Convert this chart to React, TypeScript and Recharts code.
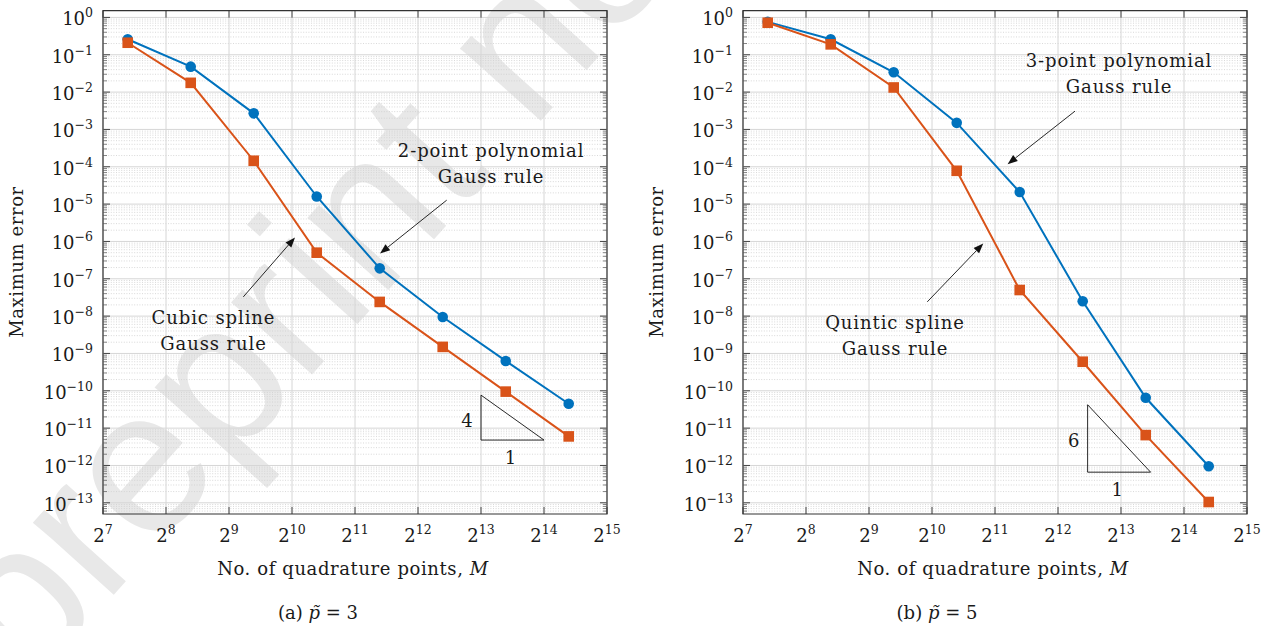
import React from "react";
import {
  LineChart,
  Line,
  XAxis,
  YAxis,
  CartesianGrid,
  ReferenceLine,
  ReferenceDot,
  ReferenceArea,
} from "recharts";

// number of quadrature points M (x positions shared by both panels)
const quadPoints = [168, 336, 672, 1344, 2688, 5376, 10752, 21504];

// (a) p~ = 3
const polyErrA = [0.26, 0.048, 0.0027, 1.6e-5, 1.9e-7, 9.5e-9, 6.3e-10, 4.5e-11];
const splineErrA = [0.21, 0.0177, 1.45e-4, 5.0e-7, 2.4e-8, 1.5e-9, 9.5e-11, 6.0e-12];

// (b) p~ = 5
const polyErrB = [0.76, 0.26, 0.034, 1.5e-3, 2.1e-5, 2.5e-8, 6.5e-11, 9.5e-13];
const splineErrB = [0.72, 0.19, 0.0133, 7.8e-5, 5.0e-8, 6.0e-10, 6.5e-12, 1.05e-13];

const xTicks = [128, 256, 512, 1024, 2048, 4096, 8192, 16384, 32768];
const yTicks = [
  1, 1e-1, 1e-2, 1e-3, 1e-4, 1e-5, 1e-6, 1e-7, 1e-8, 1e-9, 1e-10, 1e-11, 1e-12, 1e-13,
];

const X_MIN = 128;
const X_MAX = 32768;
const Y_MIN = 10 ** -13.3;
const Y_MAX = 10 ** 0.18;

// minor grid values 2..9 x 10^k inside the y range
const minorY: number[] = [];
for (let d = -14; d <= 0; d++) {
  for (let k = 2; k <= 9; k++) {
    const v = k * 10 ** d;
    if (v > Y_MIN && v < Y_MAX) minorY.push(v);
  }
}

const BLUE = "#0072BD";
const ORANGE = "#D95319";
const INK = "#1a1a1a";
const GRID = "#d6d6d6";
const FONT = "'DejaVu Serif', 'Liberation Serif', serif";

const applyScale = (scale: any, v: number) => {
  if (typeof scale === "function") return scale(v);
  if (scale && typeof scale.map === "function") return scale.map(v);
  return NaN;
};

const MinorH = (p: any) => {
  const a = Math.min(p.x1, p.x2);
  const b = Math.max(p.x1, p.x2);
  return (
    <g key={p.key}>
      <line x1={a} x2={b} y1={p.y1} y2={p.y1} stroke="#cfcfcf" strokeWidth={0.8} strokeDasharray="1 1.6" />
      <line x1={a} x2={a + 4} y1={p.y1} y2={p.y1} stroke="#555" strokeWidth={0.7} />
      <line x1={b - 4} x2={b} y1={p.y1} y2={p.y1} stroke="#555" strokeWidth={0.7} />
    </g>
  );
};

const MajorH = (p: any) => {
  const a = Math.min(p.x1, p.x2);
  const b = Math.max(p.x1, p.x2);
  return (
    <g key={p.key}>
      <line x1={a} x2={b} y1={p.y1} y2={p.y1} stroke={GRID} strokeWidth={1} />
      <line x1={a} x2={a + 7} y1={p.y1} y2={p.y1} stroke="#333" strokeWidth={0.9} />
      <line x1={b - 7} x2={b} y1={p.y1} y2={p.y1} stroke="#333" strokeWidth={0.9} />
    </g>
  );
};

const MajorV = (p: any) => {
  const a = Math.min(p.y1, p.y2);
  const b = Math.max(p.y1, p.y2);
  return (
    <g key={p.key}>
      <line x1={p.x1} x2={p.x1} y1={a} y2={b} stroke={GRID} strokeWidth={1} />
      <line x1={p.x1} x2={p.x1} y1={a} y2={a + 7} stroke="#333" strokeWidth={0.9} />
      <line x1={p.x1} x2={p.x1} y1={b - 7} y2={b} stroke="#333" strokeWidth={0.9} />
    </g>
  );
};

const XTick = (p: any) => {
  const e = Math.round(Math.log2(p.payload.value));
  return (
    <text x={p.x} y={p.y + 28} textAnchor="middle" fontFamily={FONT} fontSize={18} fill={INK}>
      2<tspan fontSize={12.5} dy={-8}>{e}</tspan>
    </text>
  );
};

const YTick = (p: any) => {
  const e = Math.round(Math.log10(p.payload.value));
  return (
    <text x={p.x} y={p.y + 8} textAnchor="end" fontFamily={FONT} fontSize={18} fill={INK}>
      10<tspan fontSize={12.5} dy={-8}>{e === 0 ? "0" : `\u2212${-e}`}</tspan>
    </text>
  );
};

const Circle = (p: any) => (
  <circle key={`c-${p.index}`} cx={p.cx} cy={p.cy} r={5.3} fill={BLUE} />
);
const Square = (p: any) => (
  <rect key={`s-${p.index}`} x={p.cx - 5.3} y={p.cy - 5.3} width={10.6} height={10.6} fill={ORANGE} />
);

const Arrow = (p: any) => {
  const { x1, y1, x2, y2 } = p;
  const ang = Math.atan2(y2 - y1, x2 - x1);
  const L = 10;
  const W = 3.8;
  const bx = x2 - L * Math.cos(ang);
  const by = y2 - L * Math.sin(ang);
  const s = Math.sin(ang);
  const c = Math.cos(ang);
  const pts = `${x2},${y2} ${bx + W * s},${by - W * c} ${bx - W * s},${by + W * c}`;
  return (
    <g>
      <line x1={x1} y1={y1} x2={bx} y2={by} stroke="#111" strokeWidth={0.9} />
      <polygon points={pts} fill="#111" />
    </g>
  );
};

const makeTriangle = (slope: number) => (p: any) => {
  const { x1, y1, x2, y2 } = p;
  return (
    <g>
      <polygon
        points={`${x1},${y1} ${x1},${y2} ${x2},${y2}`}
        fill="none"
        stroke="#111"
        strokeWidth={0.9}
      />
      <text x={x1 - 14} y={(y1 + y2) / 2 + 9} textAnchor="middle" fontFamily={FONT} fontSize={18} fill={INK}>
        {slope}
      </text>
      <text x={(x1 + x2) / 2 - 2} y={y2 + 24} textAnchor="middle" fontFamily={FONT} fontSize={18} fill={INK}>
        1
      </text>
    </g>
  );
};

const makeNote = (lines: string[]) => (p: any) => (
  <text textAnchor="middle" fontFamily={FONT} fontSize={18} letterSpacing={0.9} fill={INK}>
    <tspan x={p.cx} y={p.cy - 13}>{lines[0]}</tspan>
    <tspan x={p.cx} y={p.cy + 13}>{lines[1]}</tspan>
  </text>
);

interface PanelProps {
  left: number;
  poly: number[];
  spline: number[];
  notes: { lines: string[]; x: number; y: number }[];
  arrows: { from: [number, number]; to: [number, number] }[];
  triangle: { x0: number; x1: number; y0: number; slope: number };
  tag: string;
  pval: number;
  captionX: number;
}

function Panel({ left, poly, spline, notes, arrows, triangle, tag, pval, captionX }: PanelProps) {
  const data = quadPoints.map((m, i) => ({ m, poly: poly[i], spline: spline[i] }));
  const textStyle: React.CSSProperties = {
    position: "absolute",
    fontFamily: FONT,
    fontSize: 18,
    letterSpacing: 0.6,
    color: INK,
    whiteSpace: "nowrap",
    lineHeight: 1,
  };
  return (
    <div style={{ position: "absolute", left, top: 0, width: 640, height: 626 }}>
      <LineChart
        width={640}
        height={626}
        data={data}
        margin={{ top: 10.7, right: 33, bottom: 82, left: 0 }}
      >
        <CartesianGrid
          vertical={false}
          horizontal={MinorH}
          horizontalCoordinatesGenerator={({ yAxis }: any) =>
            minorY.map((v) => applyScale(yAxis?.scale, v))
          }
        />
        <CartesianGrid
          horizontal={MajorH}
          vertical={MajorV}
          horizontalCoordinatesGenerator={({ yAxis }: any) =>
            yTicks.map((v) => applyScale(yAxis?.scale, v))
          }
          verticalCoordinatesGenerator={({ xAxis }: any) =>
            xTicks.map((v) => applyScale(xAxis?.scale, v))
          }
        />
        <XAxis
          dataKey="m"
          type="number"
          scale="log"
          domain={[X_MIN, X_MAX]}
          ticks={xTicks}
          interval={0}
          allowDataOverflow
          tick={XTick}
          tickLine={false}
          axisLine={false}
          tickSize={0}
          tickMargin={0}
          height={30}
        />
        <YAxis
          type="number"
          scale="log"
          domain={[Y_MIN, Y_MAX]}
          ticks={yTicks}
          interval={0}
          allowDataOverflow
          tick={YTick}
          tickLine={false}
          axisLine={false}
          tickSize={0}
          tickMargin={10}
          width={103}
        />
        <Line
          dataKey="poly"
          type="linear"
          stroke={BLUE}
          strokeWidth={2}
          dot={Circle}
          activeDot={false}
          isAnimationActive={false}
        />
        <Line
          dataKey="spline"
          type="linear"
          stroke={ORANGE}
          strokeWidth={2}
          dot={Square}
          activeDot={false}
          isAnimationActive={false}
        />
        {arrows.map((a, i) => (
          <ReferenceLine
            key={`a${i}`}
            segment={[
              { x: a.from[0], y: a.from[1] },
              { x: a.to[0], y: a.to[1] },
            ]}
            shape={Arrow}
          />
        ))}
        <ReferenceLine
          segment={[
            { x: triangle.x0, y: triangle.y0 * 2 ** triangle.slope },
            { x: triangle.x1, y: triangle.y0 },
          ]}
          shape={makeTriangle(triangle.slope)}
        />
        {notes.map((n, i) => (
          <ReferenceDot key={`n${i}`} x={n.x} y={n.y} r={0} shape={makeNote(n.lines)} />
        ))}
        <ReferenceArea
          x1={X_MIN}
          x2={X_MAX}
          y1={Y_MIN}
          y2={Y_MAX}
          fill="none"
          fillOpacity={0}
          stroke="#333"
          strokeWidth={1.2}
        />
      </LineChart>
      <div
        style={{
          ...textStyle,
          left: 17,
          top: 262,
          transform: "translate(-50%, -50%) rotate(-90deg)",
        }}
      >
        Maximum error
      </div>
      <div style={{ ...textStyle, left: 353, top: 569, transform: "translate(-50%, -50%)" }}>
        No. of quadrature points, <i>M</i>
      </div>
      <div
        style={{
          ...textStyle,
          letterSpacing: 0,
          left: captionX,
          top: 613,
          transform: "translate(-50%, -50%)",
        }}
      >
        ({tag}) <i>p&#771;</i> = {pval}
      </div>
    </div>
  );
}

export default function App() {
  return (
    <div
      style={{
        position: "absolute",
        left: 0,
        top: 0,
        width: 1269,
        height: 626,
        background: "#fff",
        overflow: "hidden",
      }}
    >
      <svg width={1269} height={626} style={{ position: "absolute", left: 0, top: 0 }}>
        <text
          transform="translate(28,690) rotate(-48)"
          fontFamily="'Liberation Sans', Arial, sans-serif"
          fontSize={205}
          fill="#e8e8e8"
        >
          preprint no
        </text>
      </svg>
      <Panel
        left={0}
        poly={polyErrA}
        spline={splineErrA}
        notes={[
          { lines: ["2-point polynomial", "Gauss rule"], x: 2 ** 13.16, y: 10 ** -4.09 },
          { lines: ["Cubic spline", "Gauss rule"], x: 2 ** 8.754, y: 10 ** -8.564 },
        ]}
        arrows={[
          { from: [2 ** 12.456, 10 ** -4.894], to: [2 ** 11.397, 10 ** -6.322] },
          { from: [2 ** 9.227, 10 ** -7.485], to: [2 ** 10.048, 10 ** -5.893] },
        ]}
        triangle={{ x0: 2 ** 13, x1: 2 ** 14, y0: 10 ** -11.32, slope: 4 }}
        tag="a"
        pval={3}
        captionX={318}
      />
      <Panel
        left={640}
        poly={polyErrB}
        spline={splineErrB}
        notes={[
          { lines: ["3-point polynomial", "Gauss rule"], x: 2 ** 12.968, y: 10 ** -1.68 },
          { lines: ["Quintic spline", "Gauss rule"], x: 2 ** 9.413, y: 10 ** -8.698 },
        ]}
        arrows={[
          { from: [2 ** 12.27, 10 ** -2.51], to: [2 ** 11.2, 10 ** -3.93] },
          { from: [2 ** 9.925, 10 ** -7.618], to: [2 ** 10.814, 10 ** -6.054] },
        ]}
        triangle={{ x0: 2 ** 12.47, x1: 2 ** 13.47, y0: 10 ** -12.18, slope: 6 }}
        tag="b"
        pval={5}
        captionX={297}
      />
    </div>
  );
}
